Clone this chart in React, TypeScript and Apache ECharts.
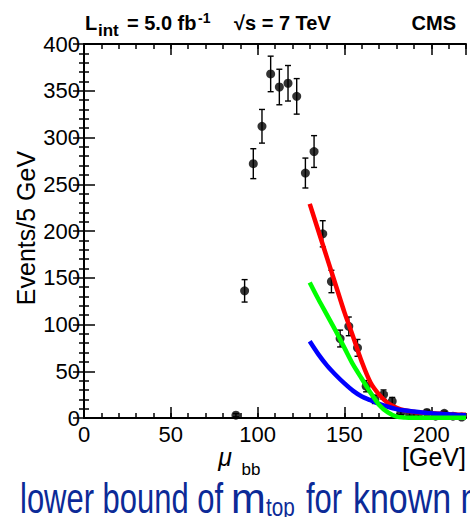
import React, { useEffect, useRef } from 'react';
import * as echarts from 'echarts';

// Data points (bin centres in GeV, events per 5 GeV, statistical error)
const binCenters = [87.5, 92.5, 97.5, 102.5, 107.5, 112.5, 117.5, 122.5, 127.5, 132.5, 137.5, 142.5, 147.5, 152.5, 157.5, 162.5, 167.5, 172.5, 177.5, 182.5, 187.5, 192.5, 197.5, 202.5, 207.5, 212.5, 217.5];
const counts = [3, 136, 272, 312, 368, 354, 358, 344, 262, 285, 197, 146, 85, 98, 75, 34, 20, 25, 18, 6, 4, 3, 6, 2, 5, 2, 1];
const errors = [1.7, 12, 16, 18, 19, 19, 19, 19, 16, 17, 14, 12, 9, 10, 9, 6, 4.5, 5, 4, 2.4, 2, 1.7, 2.4, 1.4, 2.2, 1.4, 1];

// Fitted curves
const curveX = [130, 135, 140, 145, 150, 155, 160, 165, 170, 175, 180, 185, 190, 195, 200, 205, 210, 215, 220];
const redCurve = [229, 200, 171, 142, 113, 87, 60, 38, 25, 16, 11, 8, 6.5, 5.5, 5, 4.5, 4, 3.7, 3.5];
const blueCurve = [82, 68, 56, 46, 37, 29, 23, 19, 15, 12, 9.5, 8, 7, 6, 5, 4.5, 4, 3.2, 3];
const greenCurve = [145, 127, 110, 93, 75, 57, 42, 27, 14, 6, 1.5, 0.4, 0.2, 0.2, 0.2, 0.2, 0.2, 0.2, 0.2];

// Axis settings
const xMin = 0;
const xMax = 220;
const xMajor = 50;
const xMinor = 10;
const yMin = 0;
const yMax = 400;
const yMajor = 50;

const FONT = 'Liberation Sans, Arial, Helvetica, sans-serif';
const BLUE_TEXT = '#0c2a97';

function pairs(xs: number[], ys: number[]) {
  return xs.map((x, i) => [x, ys[i]]);
}

function xAxisDef(position: 'top' | 'bottom', interval: number, major: boolean, withLabels: boolean) {
  return {
    type: 'value',
    position,
    min: xMin,
    max: xMax,
    interval,
    axisLine: { show: major, lineStyle: { color: '#000', width: 2 } },
    axisTick: { show: true, inside: true, length: major ? 11 : 5, lineStyle: { color: '#000', width: 1.5 } },
    axisLabel: {
      show: withLabels,
      color: '#000',
      fontSize: 22,
      fontFamily: FONT,
      margin: 5,
      showMaxLabel: false,
    },
    splitLine: { show: false },
  };
}

function yAxisDef(position: 'left' | 'right', withLabels: boolean) {
  return {
    type: 'value',
    position,
    min: yMin,
    max: yMax,
    interval: yMajor,
    axisLine: { show: true, lineStyle: { color: '#000', width: 2 } },
    axisTick: { show: true, inside: true, length: 11, lineStyle: { color: '#000', width: 1.5 } },
    minorTick: { show: true, splitNumber: 5, length: 5, lineStyle: { color: '#000', width: 1.5 } },
    axisLabel: { show: withLabels, color: '#000', fontSize: 22, fontFamily: FONT, margin: 4 },
    splitLine: { show: false },
    minorSplitLine: { show: false },
  };
}

function txt(text: string, x: number, y: number, opts: any = {}) {
  const { rotation, scaleX, ...style } = opts;
  const el: any = {
    type: 'text',
    x,
    y,
    z: 100,
    style: {
      text,
      fill: '#000',
      fontFamily: FONT,
      fontSize: 20,
      align: 'left',
      verticalAlign: 'middle',
      ...style,
    },
  };
  if (rotation !== undefined) el.rotation = rotation;
  if (scaleX !== undefined) el.scaleX = scaleX;
  return el;
}

export default function App() {
  const ref = useRef<HTMLDivElement>(null);

  useEffect(() => {
    if (!ref.current) return;
    const chart = echarts.init(ref.current, null, { renderer: 'svg' });

    const option: any = {
      animation: false,
      backgroundColor: '#fff',
      textStyle: { fontFamily: FONT },
      grid: { left: 84, right: 4, top: 44, bottom: 99, containLabel: false },
      xAxis: [
        xAxisDef('bottom', xMajor, true, true),
        xAxisDef('bottom', xMinor, false, false),
        xAxisDef('top', xMajor, true, false),
        xAxisDef('top', xMinor, false, false),
      ],
      yAxis: [yAxisDef('left', true), yAxisDef('right', false)],
      series: [
        {
          type: 'scatter',
          xAxisIndex: 0,
          yAxisIndex: 0,
          data: pairs(binCenters, counts),
          symbol: 'circle',
          symbolSize: 9,
          itemStyle: { color: '#000' },
          z: 3,
        },
        {
          type: 'custom',
          xAxisIndex: 0,
          yAxisIndex: 0,
          data: binCenters.map((x, i) => [x, counts[i], errors[i]]),
          encode: { x: 0, y: 1 },
          z: 3,
          renderItem: (_params: any, api: any) => {
            const x = api.value(0);
            const y = api.value(1);
            const e = api.value(2);
            const top = api.coord([x, y + e]);
            const bot = api.coord([x, y - e]);
            const hw = 3;
            const style = { stroke: '#000', lineWidth: 1.4 };
            return {
              type: 'group',
              children: [
                { type: 'line', shape: { x1: top[0], y1: top[1], x2: bot[0], y2: bot[1] }, style },
                { type: 'line', shape: { x1: top[0] - hw, y1: top[1], x2: top[0] + hw, y2: top[1] }, style },
                { type: 'line', shape: { x1: bot[0] - hw, y1: bot[1], x2: bot[0] + hw, y2: bot[1] }, style },
              ],
            };
          },
        },
        {
          type: 'line',
          xAxisIndex: 0,
          yAxisIndex: 0,
          data: pairs(curveX, redCurve),
          smooth: 0.3,
          showSymbol: false,
          clip: false,
          lineStyle: { color: '#ff0000', width: 4.5 },
          z: 4,
        },
        {
          type: 'line',
          xAxisIndex: 0,
          yAxisIndex: 0,
          data: pairs(curveX, blueCurve),
          smooth: 0.3,
          showSymbol: false,
          clip: false,
          lineStyle: { color: '#0000ff', width: 4.5 },
          z: 5,
        },
        {
          type: 'line',
          xAxisIndex: 0,
          yAxisIndex: 0,
          data: pairs(curveX, greenCurve),
          smooth: 0.3,
          showSymbol: false,
          clip: false,
          lineStyle: { color: '#00ff00', width: 4.5 },
          z: 6,
        },
      ],
      graphic: [
        txt('L', 85, 23, { fontWeight: 'bold', fontSize: 20 }),
        txt('int', 98, 30, { fontWeight: 'bold', fontSize: 17 }),
        txt('= 5.0 fb', 127, 23, { fontWeight: 'bold', fontSize: 20 }),
        txt('-1', 198, 18, { fontWeight: 'bold', fontSize: 14 }),
        txt('\u221As = 7 TeV', 234, 23, { fontWeight: 'bold', fontSize: 20 }),
        txt('CMS', 456, 23, { fontWeight: 'bold', fontSize: 20, align: 'right' }),
        txt('Events/5 GeV', 26, 228, { fontSize: 25, align: 'center', rotation: Math.PI / 2 }),
        txt('\u03BC', 225, 457, { fontSize: 25, fontStyle: 'italic', align: 'center' }),
        txt('bb', 251, 469, { fontSize: 17, align: 'center' }),
        txt('[GeV]', 466, 457, { fontSize: 25, align: 'right' }),
        txt('lower bound of', 20, 498, { fontSize: 43, fill: BLUE_TEXT, scaleX: 0.72 }),
        txt('m', 231, 498, { fontSize: 43, fill: BLUE_TEXT, scaleX: 0.97 }),
        txt('top', 266, 507, { fontSize: 25, fill: BLUE_TEXT, scaleX: 0.83 }),
        txt('for', 306, 498, { fontSize: 43, fill: BLUE_TEXT, scaleX: 0.72 }),
        txt('known m', 353, 498, { fontSize: 43, fill: BLUE_TEXT, scaleX: 0.79 }),
      ],
    };

    chart.setOption(option);
    return () => chart.dispose();
  }, []);

  return (
    <div
      ref={ref}
      style={{ position: 'fixed', left: 0, top: 0, width: 470, height: 517, background: '#fff' }}
    />
  );
}
